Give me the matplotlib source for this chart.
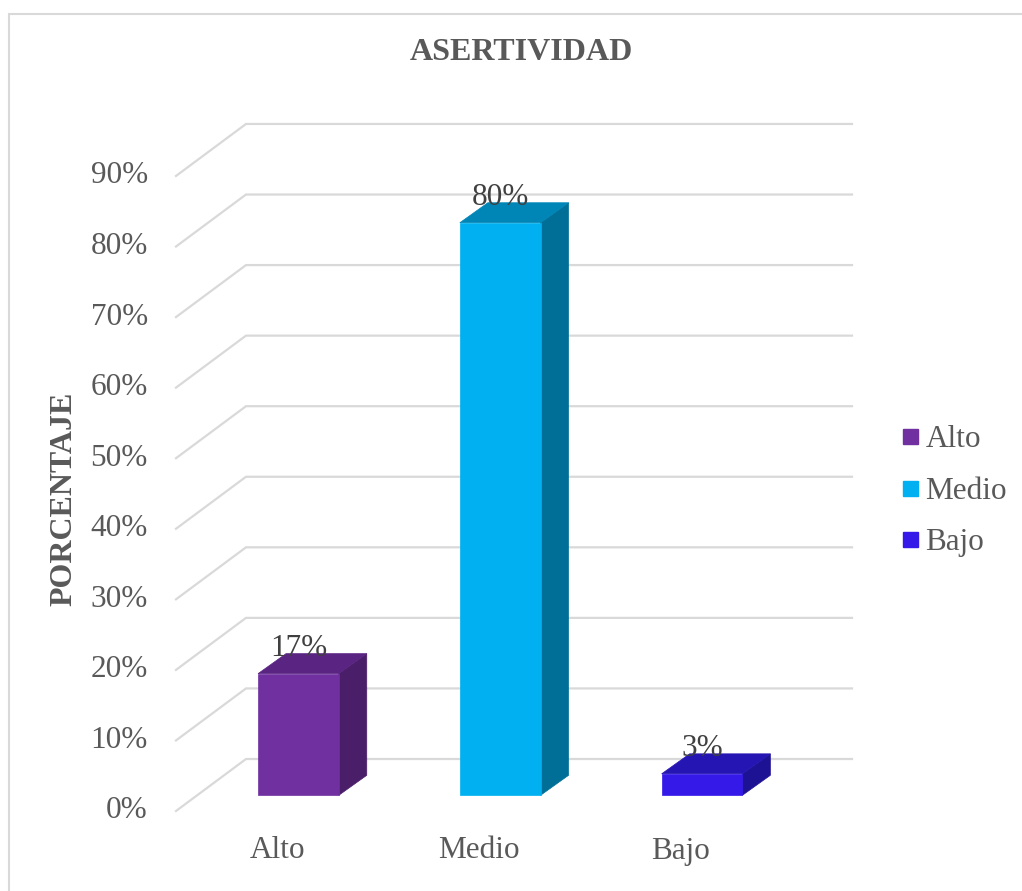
import matplotlib
matplotlib.use("Agg")
import matplotlib.pyplot as plt
from matplotlib.patches import Polygon, Rectangle
from matplotlib.lines import Line2D

# ---------------- data ----------------
categories = ["Alto", "Medio", "Bajo"]
values = [17, 80, 3]                      # percent
tick_values = [0, 10, 20, 30, 40, 50, 60, 70, 80, 90]
title = "ASERTIVIDAD"
ylabel = "PORCENTAJE"

# ---------------- styles ----------------
front_colors = ["#7030A0", "#00B0F0", "#3419E8"]
side_colors = ["#4A1E68", "#006F98", "#1E1294"]
top_colors = ["#5A2483", "#0085B7", "#2516B3"]
grid_color = "#D9D9D9"
text_color = "#595959"
label_color = "#404040"
FS = 22.5
FS_BOLD = 23

plt.rcParams['font.family'] = ['Liberation Serif', 'DejaVu Serif']

W, H = 1022, 891
fig = plt.figure(figsize=(W / 100, H / 100), dpi=100)
ax = fig.add_axes([0, 0, 1, 1])
ax.set_axis_off()

# pixel <-> data mapping (category units / percent)
X0_PX, PX_PER_CAT = 298.4, 201.8
Y0_PX, PX_PER_PCT = 795.3, 7.157
ax.set_xlim((0 - X0_PX) / PX_PER_CAT, (W - X0_PX) / PX_PER_CAT)
ax.set_ylim((Y0_PX - H) / PX_PER_PCT, Y0_PX / PX_PER_PCT)

# 3D geometry (oblique projection)
BAR_W = 0.40
BAR_DX, BAR_DY = 28 / PX_PER_CAT, 20 / PX_PER_PCT
WALL_FX, WALL_FY = (176 - X0_PX) / PX_PER_CAT, (Y0_PX - 811) / PX_PER_PCT
WALL_BX, WALL_BY = (246 - X0_PX) / PX_PER_CAT, (Y0_PX - 759) / PX_PER_PCT
WALL_RX = (852 - X0_PX) / PX_PER_CAT
WALL_SCALE = 70.56 / 10 / PX_PER_PCT

# gridlines: side wall diagonals + back wall horizontals
for t in tick_values:
    yf = WALL_FY + t * WALL_SCALE
    yb = WALL_BY + t * WALL_SCALE
    ax.plot([WALL_FX, WALL_BX, WALL_RX], [yf, yb, yb], color=grid_color,
            lw=1.6, solid_joinstyle='miter', zorder=1)
    ax.text((148 - X0_PX) / PX_PER_CAT, yf, f"{t}%", ha='right', va='center',
            fontsize=FS, color=text_color)

# 3D bars
for i, (v, fc, sc, tc) in enumerate(zip(values, front_colors, side_colors, top_colors)):
    l, r = i - BAR_W / 2, i + BAR_W / 2
    front = Polygon([(l, 0), (r, 0), (r, v), (l, v)], closed=True,
                    facecolor=fc, edgecolor=fc, lw=0.5, zorder=4)
    side = Polygon([(r, 0), (r + BAR_DX, BAR_DY), (r + BAR_DX, v + BAR_DY), (r, v)],
                   closed=True, facecolor=sc, edgecolor=sc, lw=0.5, zorder=3)
    top = Polygon([(l, v), (r, v), (r + BAR_DX, v + BAR_DY), (l + BAR_DX, v + BAR_DY)],
                  closed=True, facecolor=tc, edgecolor=tc, lw=0.5, zorder=3)
    for p in (side, top, front):
        ax.add_patch(p)
    ax.text(i, v + 2.5, f"{v}%", ha='center', va='baseline', fontsize=FS,
            color=label_color, zorder=6)
    ax.text(i - 0.105, (Y0_PX - 851) / PX_PER_PCT, categories[i], ha='center',
            va='center', fontsize=FS, color=text_color)

# title & axis label
fig.text(521.7 / W, 1 - 52.5 / H, title, ha='center', va='center',
         fontsize=FS_BOLD, fontweight='bold', color=text_color)
fig.text(64 / W, 1 - 498.7 / H, ylabel, ha='center', va='center', rotation=90,
         fontsize=FS_BOLD, fontweight='bold', color=text_color)

# legend
handles = [Line2D([], [], ls='none', marker='s', markersize=10.8,
                  markerfacecolor=c, markeredgecolor=c) for c in front_colors]
fig.legend(handles, categories, loc='center left',
           bbox_to_anchor=(898.9 / W, 1 - 491 / H), frameon=False,
           fontsize=FS, handlelength=0.7, handletextpad=0.15,
           labelspacing=0.71, borderpad=0, borderaxespad=0,
           labelcolor=text_color)

# outer chart border
fig.patches.append(Rectangle((9 / W, -0.05), 1.2, (1 - 14 / H) + 0.05,
                             transform=fig.transFigure, fill=False,
                             edgecolor=grid_color, lw=1.5))

fig.savefig("out.png", dpi=100)
